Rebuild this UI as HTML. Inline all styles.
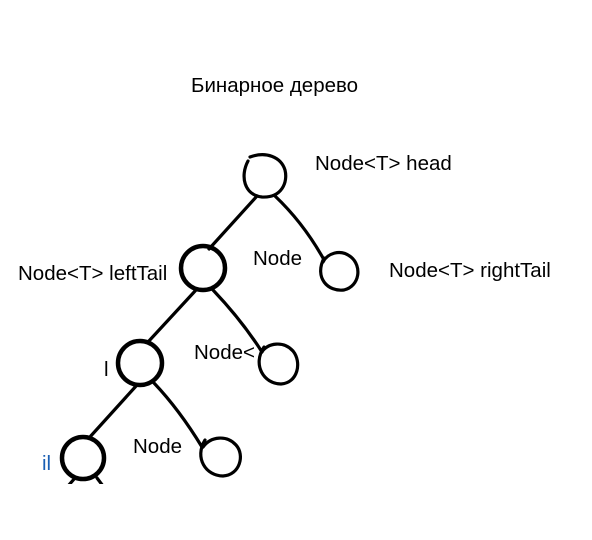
<!DOCTYPE html>
<html><head><meta charset="utf-8"><style>
html,body{margin:0;padding:0;background:#fff;}
svg{display:block;}
text{font-family:"Liberation Sans",Arial,sans-serif;font-size:20.5px;fill:#000;}
</style></head><body>
<svg width="592" height="540" viewBox="0 0 592 540" xmlns="http://www.w3.org/2000/svg">
<defs><clipPath id="c"><rect x="0" y="0" width="592" height="484"/></clipPath></defs>
<g fill="none" stroke="#000" stroke-width="3.2" stroke-linecap="round" clip-path="url(#c)">
<path d="M248 161 C240 176 244 195 262 197 C282 198 288 182 285 170 C281 157 266 151 250 157"/>
<circle cx="203" cy="268" r="22" stroke-width="4.5"/>
<path d="M324 258 C314 278 328 292 344 290 C360 286 362 266 351 257 C340 248 327 254 323 262"/>
<circle cx="140" cy="363" r="22" stroke-width="4.5"/>
<path d="M264 347 C252 365 264 384 281 384 C298 383 302 362 293 351 C284 341 268 342 261 353"/>
<circle cx="83" cy="458" r="21" stroke-width="4.5"/>
<path d="M205 440 C194 458 206 476 223 476 C240 475 245 455 236 445 C227 435 211 436 203 447"/>
<path d="M257 196 L209 249"/>
<path d="M275 196 C295 215 310 235 323 258"/>
<path d="M196 290 L148 342"/>
<path d="M213 290 C232 310 248 330 262 352"/>
<path d="M137 385 L89 438"/>
<path d="M154 383 C173 403 188 424 202 447"/>
<path d="M75 478 L68 486"/>
<path d="M97 478 L103 486"/>
</g>
<text x="191" y="92">Бинарное дерево</text>
<text x="315" y="170">Node&lt;T&gt; head</text>
<text x="18" y="280">Node&lt;T&gt; leftTail</text>
<text x="253" y="265">Node</text>
<text x="389" y="277">Node&lt;T&gt; rightTail</text>
<text x="194" y="359">Node&lt;</text>
<text x="104" y="376">l</text>
<text x="133" y="453">Node</text>
<text x="42" y="470" style="fill:#1a5fb4">il</text>
</svg>
</body></html>
